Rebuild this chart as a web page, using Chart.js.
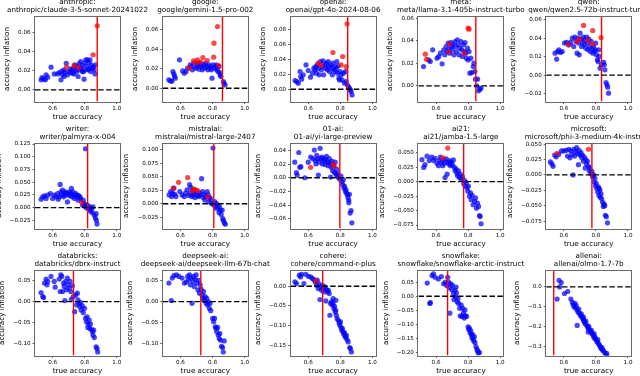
<!DOCTYPE html>
<html>
<head>
<meta charset="utf-8">
<script src="https://cdn.jsdelivr.net/npm/chart.js@4.4.1/dist/chart.umd.min.js"></script>
<style>
  html, body { margin: 0; padding: 0; background: #fff; }
  body { position: relative; width: 640px; height: 376px; overflow: hidden; }
  canvas { position: absolute; }
</style>
</head>
<body>
<script>
// ---- data (x = true accuracy, y = accuracy inflation) ----
const providers = ['anthropic', 'google', 'openai', 'meta', 'qwen',
  'writer', 'mistralai', '01-ai', 'ai21', 'microsoft',
  'databricks', 'deepseek-ai', 'cohere', 'snowflake', 'allenai'];
const models = ['anthropic/claude-3-5-sonnet-20241022', 'google/gemini-1.5-pro-002',
  'openai/gpt-4o-2024-08-06', 'meta/llama-3.1-405b-instruct-turbo', 'qwen/qwen2.5-72b-instruct-turbo',
  'writer/palmyra-x-004', 'mistralai/mistral-large-2407', '01-ai/yi-large-preview',
  'ai21/jamba-1.5-large', 'microsoft/phi-3-medium-4k-instruct',
  'databricks/dbrx-instruct', 'deepseek-ai/deepseek-llm-67b-chat', 'cohere/command-r-plus',
  'snowflake/snowflake-arctic-instruct', 'allenai/olmo-1.7-7b'];
// true accuracy of each model (red vertical line)
const modelAccuracy = [0.878, 0.862, 0.846, 0.848, 0.835, 0.818, 0.808, 0.797, 0.772, 0.775,
  0.730, 0.727, 0.690, 0.672, 0.537];
const xLimits = [0.49, 1.02];
const yMins = [-0.0121, -0.0137, -0.0164, -0.0139, -0.0286, -0.041, -0.046, -0.074, -0.081, -0.087,
  -0.130, -0.130, -0.176, -0.210, -0.347];
const yMaxs = [0.0763, 0.0738, 0.0969, 0.0615, 0.0637, 0.126, 0.112, 0.050, 0.066, 0.051,
  0.075, 0.075, 0.040, 0.091, 0.083];
const xTickLabels = ['0.6', '0.8', '1.0'];
const yTickLabels = [
  ['0.00', '0.02', '0.04', '0.06'],
  ['0.00', '0.02', '0.04', '0.06'],
  ['0.00', '0.02', '0.04', '0.06', '0.08'],
  ['0.00', '0.02', '0.04', '0.06'],
  ['\u22120.02', '0.00', '0.02', '0.04', '0.06'],
  ['\u22120.025', '0.000', '0.025', '0.050', '0.075', '0.100', '0.125'],
  ['\u22120.025', '0.000', '0.025', '0.050', '0.075', '0.100'],
  ['\u22120.06', '\u22120.04', '\u22120.02', '0.00', '0.02', '0.04'],
  ['\u22120.075', '\u22120.050', '\u22120.025', '0.000', '0.025', '0.050'],
  ['\u22120.075', '\u22120.050', '\u22120.025', '0.000', '0.025', '0.050'],
  ['\u22120.10', '\u22120.05', '0.00', '0.05'],
  ['\u22120.10', '\u22120.05', '0.00', '0.05'],
  ['\u22120.15', '\u22120.10', '\u22120.05', '0.00'],
  ['\u22120.20', '\u22120.15', '\u22120.10', '\u22120.05', '0.00', '0.05'],
  ['\u22120.3', '\u22120.2', '\u22120.1', '0.0']
];

const anthropicBlue = [[0.528,0.0104],[0.544,0.0114],[0.559,0.0156],[0.534,0.0128],[0.569,0.0132],[0.555,0.0104],[0.590,0.0236],[0.610,0.0166],[0.631,0.0166],[0.641,0.018],[0.652,0.0104],[0.658,0.0194],[0.662,0.0156],[0.672,0.0208],[0.678,0.018],[0.685,0.0277],[0.693,0.0156],[0.703,0.019],[0.709,0.0218],[0.718,0.0201],[0.724,0.0173],[0.730,0.0225],[0.738,0.026],[0.744,0.0208],[0.751,0.019],[0.755,0.0243],[0.759,0.0139],[0.765,0.027],[0.771,0.0208],[0.775,0.0295],[0.779,0.0225],[0.786,0.0253],[0.792,0.019],[0.796,0.0111],[0.800,0.0277],[0.806,0.0312],[0.812,0.0243],[0.816,0.0312],[0.821,0.0208],[0.825,0.0284],[0.829,0.0225],[0.833,0.0312],[0.837,0.019],[0.841,0.026],[0.847,0.0225],[0.854,0.0243],[0.858,0.0208],[0.864,0.0166],[0.868,0.026],[0.806,0.0208],[0.786,0.019],[0.713,0.018],[0.734,0.0166],[0.672,0.0139]];
const anthropicRed = [[0.878,0.0666],[0.852,0.0364],[0.734,0.0253],[0.687,0.0236],[0.761,0.0232]];

const googleBlue = [[0.527,0.0086],[0.539,0.0075],[0.547,0.0072],[0.553,0.0172],[0.559,0.0148],[0.563,0.0124],[0.568,0.0103],[0.594,0.0292],[0.614,0.0178],[0.624,0.0154],[0.635,0.0172],[0.645,0.0206],[0.661,0.024],[0.669,0.0223],[0.675,0.0189],[0.685,0.0257],[0.702,0.0223],[0.710,0.0247],[0.716,0.0196],[0.722,0.0257],[0.730,0.0223],[0.736,0.0189],[0.746,0.024],[0.752,0.0206],[0.756,0.0257],[0.762,0.0223],[0.771,0.0189],[0.777,0.024],[0.783,0.0206],[0.787,0.0223],[0.793,0.0189],[0.797,0.0103],[0.803,0.024],[0.813,0.0206],[0.819,0.0223],[0.823,0.024],[0.827,0.0189],[0.834,0.0172],[0.840,0.0223],[0.844,0.0161],[0.848,0.0137],[0.852,0.012],[0.868,0.0069],[0.872,0.0051],[0.878,0.0034],[0.726,0.024],[0.695,0.0206]];
const googleRed = [[0.831,0.0635],[0.809,0.0463],[0.740,0.0316],[0.767,0.0285],[0.807,0.0319],[0.706,0.0292],[0.681,0.0281],[0.726,0.0268],[0.655,0.0206],[0.838,0.0233],[0.695,0.0264]];

const openaiBlue = [[0.518,0.0116],[0.528,0.0102],[0.538,0.008],[0.549,0.0236],[0.553,0.0169],[0.559,0.0133],[0.569,0.0191],[0.586,0.0324],[0.600,0.0249],[0.614,0.016],[0.627,0.0213],[0.635,0.028],[0.643,0.0258],[0.647,0.0302],[0.651,0.0213],[0.657,0.0324],[0.664,0.028],[0.668,0.0191],[0.676,0.0369],[0.682,0.0258],[0.688,0.0302],[0.692,0.0378],[0.696,0.0191],[0.703,0.0324],[0.709,0.028],[0.713,0.0347],[0.719,0.0258],[0.725,0.0369],[0.729,0.0302],[0.733,0.0236],[0.739,0.0324],[0.746,0.028],[0.750,0.0191],[0.754,0.0347],[0.760,0.0258],[0.766,0.0302],[0.770,0.0236],[0.776,0.028],[0.783,0.0213],[0.787,0.0311],[0.791,0.0147],[0.795,0.0124],[0.799,0.0236],[0.805,0.0191],[0.811,0.0124],[0.819,0.0213],[0.826,0.008],[0.832,0.0236],[0.836,0.0102],[0.844,0.0058],[0.852,0.0027],[0.856,0.0013],[0.863,-0.0009],[0.867,-0.0031],[0.873,-0.0076],[0.778,0.0369]];
const openaiRed = [[0.842,0.0871],[0.754,0.0489],[0.815,0.0436],[0.805,0.0324],[0.836,0.0302],[0.662,0.0347],[0.682,0.0316]];

const metaBlue = [[0.522,0.0171],[0.554,0.023],[0.564,0.0216],[0.579,0.0319],[0.606,0.0245],[0.617,0.026],[0.627,0.029],[0.638,0.0195],[0.648,0.0319],[0.655,0.0275],[0.663,0.0349],[0.669,0.0304],[0.676,0.0378],[0.680,0.0325],[0.686,0.029],[0.693,0.0384],[0.697,0.0349],[0.701,0.0319],[0.705,0.0364],[0.712,0.0275],[0.718,0.0393],[0.722,0.0349],[0.726,0.0304],[0.733,0.0408],[0.739,0.0364],[0.743,0.0275],[0.749,0.0334],[0.756,0.0393],[0.760,0.0319],[0.764,0.026],[0.771,0.0364],[0.777,0.0304],[0.781,0.0384],[0.785,0.029],[0.789,0.0245],[0.796,0.0334],[0.800,0.023],[0.806,0.0304],[0.811,0.0112],[0.817,0.0245],[0.823,0.0118],[0.832,0.0171],[0.836,0.0201],[0.842,0.0127],[0.846,0.0059],[0.859,0.0059],[0.865,-0.0044],[0.874,-0.003],[0.880,-0.002],[0.853,0.0]];
const metaRed = [[0.533,0.0281],[0.541,0.0236],[0.680,0.0299],[0.684,0.037],[0.800,0.0511],[0.806,0.0503],[0.775,0.029]];

const qwenBlue = [[0.545,0.0239],[0.555,0.0174],[0.561,0.0257],[0.569,0.0275],[0.579,0.0246],[0.590,0.0257],[0.604,0.0348],[0.618,0.0355],[0.633,0.0329],[0.643,0.0355],[0.653,0.0402],[0.662,0.0311],[0.668,0.0413],[0.676,0.0366],[0.682,0.0239],[0.688,0.0402],[0.692,0.0348],[0.696,0.0221],[0.701,0.0456],[0.707,0.0391],[0.711,0.0311],[0.717,0.0355],[0.723,0.0413],[0.727,0.0329],[0.731,0.0384],[0.737,0.0293],[0.742,0.0413],[0.746,0.0348],[0.750,0.0275],[0.756,0.0391],[0.762,0.0311],[0.766,0.0257],[0.770,0.0366],[0.776,0.0293],[0.781,0.0239],[0.785,0.0311],[0.791,0.0257],[0.797,0.0275],[0.803,0.0221],[0.809,0.0167],[0.813,0.0148],[0.817,0.0275],[0.820,0.0203],[0.826,0.0076],[0.834,0.0112],[0.848,0.0138],[0.852,0.0112],[0.856,0.0058],[0.863,-0.008],[0.869,-0.0105],[0.873,-0.013],[0.879,-0.0196],[0.799,0.0348]];
const qwenRed = [[0.723,0.054],[0.780,0.0485],[0.832,0.0409],[0.627,0.0329],[0.682,0.0366],[0.696,0.0391],[0.750,0.0377],[0.780,0.0337]];

const writerBlue = [[0.805,0.1157],[0.528,0.0165],[0.538,0.0212],[0.549,0.0231],[0.559,0.0179],[0.569,0.0245],[0.586,0.0278],[0.600,0.0179],[0.610,0.0245],[0.621,0.0212],[0.631,0.0278],[0.635,0.0165],[0.641,0.0212],[0.647,0.0456],[0.651,0.0311],[0.657,0.0245],[0.662,0.0344],[0.668,0.0212],[0.672,0.0278],[0.678,0.0311],[0.684,0.0245],[0.688,0.0291],[0.692,0.0112],[0.698,0.0265],[0.705,0.0311],[0.709,0.0231],[0.715,0.0278],[0.721,0.0212],[0.727,0.0311],[0.733,0.0245],[0.737,0.0179],[0.744,0.0278],[0.750,0.0212],[0.754,0.0245],[0.760,0.0146],[0.764,0.0231],[0.770,0.0212],[0.774,0.0179],[0.787,0.0046],[0.791,0.0146],[0.795,0.0079],[0.799,0.0033],[0.805,0.006],[0.811,-0.0007],[0.819,0.0046],[0.826,-0.0033],[0.832,0.0013],[0.836,-0.0073],[0.842,-0.002],[0.848,-0.0099],[0.852,0.0013],[0.860,-0.0152],[0.867,-0.0205],[0.873,-0.0251],[0.877,-0.0324],[0.871,-0.0119],[0.717,0.0377]];
const writerRed = [[0.781,0.0099]];

const mistralBlue = [[0.529,0.0164],[0.539,0.0227],[0.545,0.0133],[0.551,0.0196],[0.559,0.029],[0.565,0.0177],[0.572,0.0133],[0.596,0.0227],[0.610,0.0164],[0.624,0.0133],[0.632,0.0196],[0.641,0.0259],[0.651,0.0152],[0.657,0.0354],[0.661,0.0196],[0.665,0.0303],[0.671,0.0133],[0.677,0.0259],[0.681,0.0164],[0.685,0.0196],[0.691,0.0114],[0.697,0.0227],[0.706,0.0164],[0.712,0.0133],[0.718,0.0196],[0.722,0.0152],[0.732,0.0467],[0.738,0.0227],[0.742,0.0114],[0.748,0.0177],[0.752,0.0069],[0.758,0.0133],[0.767,0.0227],[0.773,0.0164],[0.777,0.0038],[0.783,0.0114],[0.787,0.0088],[0.793,0.0006],[0.803,0.1035],[0.807,-0.0025],[0.813,0.0038],[0.819,-0.0057],[0.823,0.0006],[0.827,-0.0088],[0.834,-0.0025],[0.840,-0.0164],[0.844,-0.0057],[0.848,-0.012],[0.854,-0.0202],[0.860,-0.012],[0.868,-0.0309],[0.874,-0.0354],[0.880,-0.0379],[0.864,-0.0278]];
const mistralRed = [[0.555,0.029],[0.588,0.0398],[0.645,0.0487],[0.675,0.024],[0.684,0.0273],[0.692,0.0265],[0.708,0.0246],[0.771,0.0127]];

const yiBlue = [[0.516,0.0227],[0.526,0.0076],[0.531,0.004],[0.541,0.0369],[0.547,0.0152],[0.554,0.0162],[0.579,0.0],[0.600,0.0227],[0.615,0.0303],[0.629,0.0278],[0.638,0.0404],[0.644,0.0253],[0.648,0.0202],[0.653,0.0328],[0.659,0.0278],[0.663,0.004],[0.667,0.0227],[0.674,0.0429],[0.678,0.0278],[0.684,0.0303],[0.688,0.0202],[0.693,0.0253],[0.699,0.0278],[0.705,0.0192],[0.709,0.0253],[0.714,0.0313],[0.720,0.0227],[0.724,0.0177],[0.731,0.0278],[0.735,0.0212],[0.739,0.001],[0.743,0.0152],[0.747,0.0242],[0.752,0.0101],[0.758,0.0177],[0.764,0.0076],[0.768,0.0227],[0.773,0.0051],[0.777,0.0126],[0.781,0.0025],[0.785,0.0061],[0.789,0.0],[0.798,-0.0025],[0.804,0.0025],[0.811,-0.0061],[0.815,-0.0101],[0.819,-0.0025],[0.823,-0.0152],[0.827,-0.0126],[0.832,-0.0202],[0.836,-0.0177],[0.840,-0.0227],[0.844,-0.0253],[0.848,-0.0293],[0.853,-0.0328],[0.857,-0.0242],[0.861,-0.0515],[0.867,-0.048],[0.872,-0.0657],[0.853,-0.0364]];
const yiRed = [[0.615,0.0152],[0.756,0.0192],[0.762,0.0167]];

const ai21Blue = [[0.512,0.038],[0.523,0.0246],[0.531,0.0293],[0.544,0.044],[0.558,0.0364],[0.573,0.0423],[0.585,0.0364],[0.594,0.0405],[0.606,0.0317],[0.615,0.0276],[0.621,0.0364],[0.627,0.0423],[0.635,0.0334],[0.642,0.0276],[0.648,0.0376],[0.652,0.0317],[0.656,0.007],[0.663,0.0393],[0.669,0.0129],[0.673,0.0334],[0.679,0.0305],[0.685,0.0364],[0.690,0.0276],[0.696,0.0334],[0.702,0.0293],[0.708,0.0376],[0.715,0.0246],[0.719,0.0188],[0.725,0.0217],[0.731,0.0141],[0.735,0.01],[0.740,0.0188],[0.746,0.007],[0.752,0.0129],[0.758,0.0041],[0.765,0.0082],[0.773,-0.0035],[0.777,0.0023],[0.781,-0.0076],[0.788,-0.0018],[0.794,-0.0106],[0.798,-0.0164],[0.802,-0.0076],[0.808,-0.0252],[0.815,-0.0194],[0.819,-0.0311],[0.825,-0.0235],[0.831,-0.0399],[0.840,-0.034],[0.846,-0.0282],[0.852,-0.0458],[0.858,-0.037],[0.865,-0.0428],[0.871,-0.0587],[0.875,-0.0604],[0.881,-0.0728]];
const ai21Red = [[0.673,0.0581],[0.642,0.0411]];

const microsoftBlue = [[0.516,0.0211],[0.526,0.0178],[0.533,0.0139],[0.543,0.0322],[0.552,0.0294],[0.568,0.0333],[0.585,0.0389],[0.600,0.0389],[0.615,0.04],[0.623,0.0306],[0.632,0.0417],[0.638,0.0278],[0.644,0.0389],[0.651,0.0333],[0.657,0.0],[0.663,0.0417],[0.667,0.0306],[0.674,0.0378],[0.680,0.0444],[0.686,0.0344],[0.691,0.0167],[0.695,0.04],[0.701,0.0322],[0.707,0.0361],[0.712,0.0278],[0.716,0.0322],[0.722,0.0222],[0.728,0.0289],[0.733,0.0111],[0.737,0.025],[0.741,0.0178],[0.747,0.0222],[0.754,0.0139],[0.758,0.0067],[0.762,0.0111],[0.768,0.0028],[0.775,0.0056],[0.779,-0.0028],[0.785,0.0],[0.789,-0.0111],[0.794,-0.0056],[0.798,-0.0178],[0.802,-0.0139],[0.806,-0.0222],[0.811,-0.0278],[0.815,-0.0194],[0.819,-0.0333],[0.825,-0.025],[0.832,-0.0306],[0.836,-0.0389],[0.842,-0.0444],[0.846,-0.0511],[0.851,-0.0472],[0.855,-0.05],[0.859,-0.0656],[0.865,-0.0678],[0.872,-0.0778],[0.827,-0.0361],[0.821,-0.0222]];
const microsoftRed = [[0.558,0.035],[0.754,0.0417]];

const databricksBlue = [[0.528,0.0219],[0.538,0.0122],[0.544,0.0097],[0.549,0.0446],[0.559,0.0543],[0.565,0.0405],[0.569,0.0486],[0.590,0.0608],[0.610,0.0486],[0.616,0.0348],[0.641,0.0543],[0.647,0.0243],[0.651,0.0648],[0.657,0.0608],[0.662,0.0243],[0.668,0.0446],[0.672,0.0365],[0.676,0.0024],[0.682,0.0486],[0.686,0.0284],[0.692,0.0567],[0.696,0.0405],[0.703,0.0324],[0.709,0.0486],[0.713,0.0243],[0.717,0.0057],[0.723,0.0381],[0.729,0.0122],[0.737,-0.0243],[0.744,0.0162],[0.750,-0.0081],[0.754,0.0203],[0.758,0.0041],[0.764,-0.0041],[0.770,-0.0122],[0.774,-0.0024],[0.778,-0.0203],[0.785,-0.0105],[0.791,-0.0267],[0.799,-0.0162],[0.805,-0.0405],[0.811,-0.0486],[0.815,-0.0365],[0.822,-0.0543],[0.828,-0.0446],[0.832,-0.0648],[0.836,-0.0543],[0.842,-0.0673],[0.848,-0.0729],[0.852,-0.081],[0.856,-0.0689],[0.860,-0.0867],[0.871,-0.1094],[0.877,-0.1135],[0.881,-0.1216],[0.819,-0.0624]];

const deepseekBlue = [[0.528,0.0446],[0.543,0.0024],[0.549,0.0567],[0.559,0.0624],[0.575,0.0648],[0.590,0.0608],[0.610,0.0567],[0.625,0.0446],[0.637,0.047],[0.645,0.0608],[0.651,0.0527],[0.657,0.0648],[0.662,0.0405],[0.666,0.0567],[0.672,-0.0041],[0.678,0.0486],[0.682,0.0608],[0.686,0.0365],[0.692,0.0543],[0.698,0.0648],[0.703,0.0446],[0.709,0.0284],[0.713,0.0511],[0.719,0.0203],[0.723,0.0405],[0.729,0.03],[0.735,0.0162],[0.739,0.0081],[0.744,0.0243],[0.748,0.0024],[0.754,0.0122],[0.760,-0.0041],[0.764,0.0081],[0.770,-0.0081],[0.774,0.0],[0.780,-0.0162],[0.785,-0.0041],[0.789,-0.0219],[0.801,-0.0405],[0.807,-0.0486],[0.813,-0.0405],[0.817,-0.0608],[0.822,-0.0648],[0.826,-0.0729],[0.832,-0.0624],[0.836,-0.081],[0.842,-0.0891],[0.846,-0.077],[0.850,-0.0932],[0.856,-0.1078],[0.863,-0.111],[0.867,-0.1216],[0.873,-0.0948]];

const cohereBlue = [[0.517,0.011],[0.527,0.0068],[0.544,0.028],[0.552,0.0237],[0.559,0.0305],[0.573,0.0068],[0.585,0.0305],[0.600,0.0254],[0.615,0.0237],[0.627,0.0195],[0.635,0.0169],[0.644,0.011],[0.652,0.0025],[0.656,0.0153],[0.662,-0.0059],[0.666,0.0068],[0.673,-0.0339],[0.677,-0.0017],[0.683,-0.0102],[0.689,0.0025],[0.693,-0.0059],[0.697,-0.0144],[0.704,-0.0017],[0.710,-0.0373],[0.714,-0.0085],[0.720,-0.0144],[0.726,-0.0102],[0.731,-0.0186],[0.735,-0.0737],[0.739,-0.0441],[0.745,-0.0398],[0.751,-0.0483],[0.755,-0.0424],[0.760,-0.0568],[0.764,-0.0508],[0.768,-0.0653],[0.772,-0.061],[0.776,-0.0737],[0.780,-0.0822],[0.787,-0.0864],[0.793,-0.0932],[0.797,-0.0992],[0.801,-0.0907],[0.805,-0.1051],[0.809,-0.1119],[0.813,-0.1076],[0.818,-0.1161],[0.822,-0.122],[0.826,-0.1186],[0.830,-0.1271],[0.834,-0.1305],[0.838,-0.1246],[0.842,-0.1356],[0.849,-0.1415],[0.859,-0.1559],[0.863,-0.1585],[0.869,-0.1669],[0.755,-0.0314],[0.772,-0.0356]];
const cohereRed = [[0.648,0.0136]];

const snowflakeBlue = [[0.545,0.0463],[0.561,-0.0255],[0.565,-0.0231],[0.575,0.0729],[0.584,0.0787],[0.594,0.0671],[0.614,0.0613],[0.633,0.0694],[0.647,0.044],[0.659,0.0498],[0.667,0.0382],[0.673,0.0671],[0.678,0.0498],[0.682,0.0301],[0.686,-0.0602],[0.692,0.044],[0.698,0.0231],[0.702,0.0382],[0.708,0.0093],[0.712,-0.0116],[0.718,0.0208],[0.722,-0.0023],[0.727,0.0116],[0.731,-0.0197],[0.737,-0.0081],[0.741,-0.0255],[0.747,-0.0428],[0.751,-0.0694],[0.757,-0.0313],[0.761,-0.0718],[0.765,-0.0428],[0.771,-0.0602],[0.776,-0.0775],[0.780,-0.0486],[0.784,-0.0694],[0.790,-0.0718],[0.800,-0.1088],[0.804,-0.1181],[0.808,-0.1134],[0.812,-0.1296],[0.816,-0.1215],[0.820,-0.1354],[0.824,-0.147],[0.827,-0.1354],[0.831,-0.1505],[0.835,-0.1586],[0.839,-0.1435],[0.843,-0.1644],[0.849,-0.1782],[0.855,-0.1875],[0.859,-0.1933],[0.863,-0.2014],[0.871,-0.1991],[0.725,0.0324]];

const allenaiBlue = [[0.558,-0.0617],[0.570,0.0333],[0.584,0.0217],[0.574,0.0],[0.604,-0.0333],[0.624,-0.0233],[0.644,-0.0617],[0.653,-0.0783],[0.659,-0.09],[0.663,-0.1],[0.669,-0.0833],[0.673,-0.1067],[0.677,-0.095],[0.683,-0.1167],[0.689,-0.1283],[0.693,-0.1117],[0.697,-0.1333],[0.683,-0.195],[0.703,-0.145],[0.709,-0.1367],[0.713,-0.1533],[0.719,-0.1617],[0.723,-0.17],[0.729,-0.1783],[0.733,-0.1867],[0.737,-0.1733],[0.743,-0.195],[0.749,-0.2033],[0.752,-0.2117],[0.756,-0.2],[0.762,-0.2167],[0.768,-0.2283],[0.772,-0.22],[0.776,-0.2367],[0.782,-0.245],[0.788,-0.2567],[0.792,-0.25],[0.798,-0.2617],[0.802,-0.27],[0.808,-0.2783],[0.812,-0.2667],[0.816,-0.2867],[0.822,-0.295],[0.828,-0.3033],[0.832,-0.3117],[0.838,-0.3067],[0.842,-0.32],[0.848,-0.3233],[0.855,-0.3333],[0.861,-0.345],[0.867,-0.3367],[0.871,-0.35],[0.788,-0.2367],[0.752,-0.2283],[0.723,-0.1533]];

const blueSets = [anthropicBlue, googleBlue, openaiBlue, metaBlue, qwenBlue,
  writerBlue, mistralBlue, yiBlue, ai21Blue, microsoftBlue,
  databricksBlue, deepseekBlue, cohereBlue, snowflakeBlue, allenaiBlue];
const redSets = [anthropicRed, googleRed, openaiRed, metaRed, qwenRed,
  writerRed, mistralRed, yiRed, ai21Red, microsoftRed,
  [], [], cohereRed, [], []];

// ---- layout (pixel grid of the subplots) ----
const colLeft = [35, 162.8, 290.6, 418.4, 546.2];
const rowTop = [16.5, 143.5, 270.5];
const plotSize = 85;
const family = '"DejaVu Sans", sans-serif';
const tickSize = 5.6;
const labelSize = 7.2;

const measureCtx = document.createElement('canvas').getContext('2d');
function textWidth(str, size) {
    measureCtx.font = size + 'px ' + family;
    return measureCtx.measureText(str).width;
}
const toPoints = arr => arr.map(p => ({x: p[0], y: p[1]}));
const parseTick = t => parseFloat(t.replace('\u2212', '-'));

// frame around the axes and the two-line title, centred over the plot
const frameTitle = {
    id: 'frameTitle',
    afterDraw(chart, args, opts) {
        const {ctx, chartArea: a} = chart;
        ctx.save();
        ctx.strokeStyle = '#6a6a6a';
        ctx.lineWidth = 1;
        ctx.strokeRect(Math.round(a.left) - 0.5, Math.round(a.top) - 0.5,
            Math.round(a.right - a.left) + 1, Math.round(a.bottom - a.top) + 1);
        ctx.fillStyle = '#000';
        ctx.font = labelSize + 'px ' + family;
        ctx.textAlign = 'center';
        ctx.textBaseline = 'middle';
        const cx = (a.left + a.right) / 2;
        ctx.fillText(opts.lines[0], cx, a.top - 14.5);
        ctx.fillText(opts.lines[1], cx, a.top - 6);
        ctx.restore();
    }
};

function buildChart(i) {
    const col = i % 5, row = Math.floor(i / 5);
    const plotLeft = colLeft[col], plotTop = rowTop[row];
    const cw = 210, ch = 132;
    const cLeft = Math.floor(plotLeft) - 66, cTop = Math.floor(plotTop) - 20;
    const yW = 50, xH = 26;

    const canvas = document.createElement('canvas');
    canvas.width = cw;
    canvas.height = ch;
    canvas.style.left = cLeft + 'px';
    canvas.style.top = cTop + 'px';
    document.body.appendChild(canvas);

    const padL = plotLeft - cLeft - yW;
    const padT = plotTop - cTop;
    const padR = cw - (plotLeft - cLeft) - plotSize;
    const padB = ch - padT - plotSize - xH;

    const yLabels = yTickLabels[i];
    const tickW = Math.max(...yLabels.map(t => textWidth(t, tickSize)));
    const lh = labelSize * 1.2;
    const yTitlePad = Math.max(0, yW - (15.5 + tickW) - lh / 2);

    const lo = yMins[i], hi = yMaxs[i];
    const cut = modelAccuracy[i];

    new Chart(canvas, {
        type: 'scatter',
        data: {
            datasets: [
                {
                    data: [{x: xLimits[0], y: 0}, {x: xLimits[1], y: 0}],
                    showLine: true,
                    borderColor: '#000',
                    borderWidth: 1.4,
                    borderDash: [5.5, 2.4],
                    pointRadius: 0,
                    order: 0
                },
                {
                    data: [{x: cut, y: lo}, {x: cut, y: hi}],
                    showLine: true,
                    borderColor: '#ff0000',
                    borderWidth: 1.4,
                    pointRadius: 0,
                    order: 1
                },
                {
                    data: toPoints(redSets[i]),
                    backgroundColor: 'rgba(255,0,0,0.72)',
                    borderWidth: 0,
                    pointRadius: 2.6,
                    order: 2
                },
                {
                    data: toPoints(blueSets[i]),
                    backgroundColor: 'rgba(0,0,255,0.72)',
                    borderWidth: 0,
                    pointRadius: 2.6,
                    order: 3
                }
            ]
        },
        options: {
            responsive: false,
            animation: false,
            devicePixelRatio: 1,
            layout: {
                autoPadding: false,
                padding: {left: padL, right: padR, top: padT, bottom: padB}
            },
            scales: {
                x: {
                    type: 'linear',
                    min: xLimits[0],
                    max: xLimits[1],
                    afterBuildTicks: s => { s.ticks = xTickLabels.map(t => ({value: parseTick(t)})); },
                    afterFit: s => { s.height = xH; },
                    ticks: {
                        autoSkip: false,
                        maxRotation: 0,
                        padding: 1,
                        color: '#000',
                        font: {family: family, size: tickSize},
                        callback: (v, k) => xTickLabels[k]
                    },
                    grid: {drawOnChartArea: false, drawTicks: true, tickLength: 2.5, color: '#333', lineWidth: 0.8},
                    border: {display: false},
                    title: {
                        display: true,
                        text: 'true accuracy',
                        color: '#000',
                        font: {family: family, size: labelSize, lineHeight: 1.2},
                        padding: {top: 0, bottom: 6}
                    }
                },
                y: {
                    type: 'linear',
                    min: lo,
                    max: hi,
                    afterBuildTicks: s => { s.ticks = yLabels.map(t => ({value: parseTick(t)})); },
                    afterFit: s => { s.width = yW; },
                    ticks: {
                        autoSkip: false,
                        padding: 2,
                        color: '#000',
                        font: {family: family, size: tickSize},
                        callback: (v, k) => yLabels[k]
                    },
                    grid: {drawOnChartArea: false, drawTicks: true, tickLength: 2.5, color: '#333', lineWidth: 0.8},
                    border: {display: false},
                    title: {
                        display: true,
                        text: 'accuracy inflation',
                        color: '#000',
                        font: {family: family, size: labelSize, lineHeight: 1.2},
                        padding: {top: yTitlePad, bottom: 0}
                    }
                }
            },
            plugins: {
                legend: {display: false},
                tooltip: {enabled: false},
                frameTitle: {lines: [providers[i] + ':', models[i]]}
            }
        },
        plugins: [frameTitle]
    });
}

for (let i = 0; i < providers.length; i++) {
    buildChart(i);
}
</script>
</body>
</html>
